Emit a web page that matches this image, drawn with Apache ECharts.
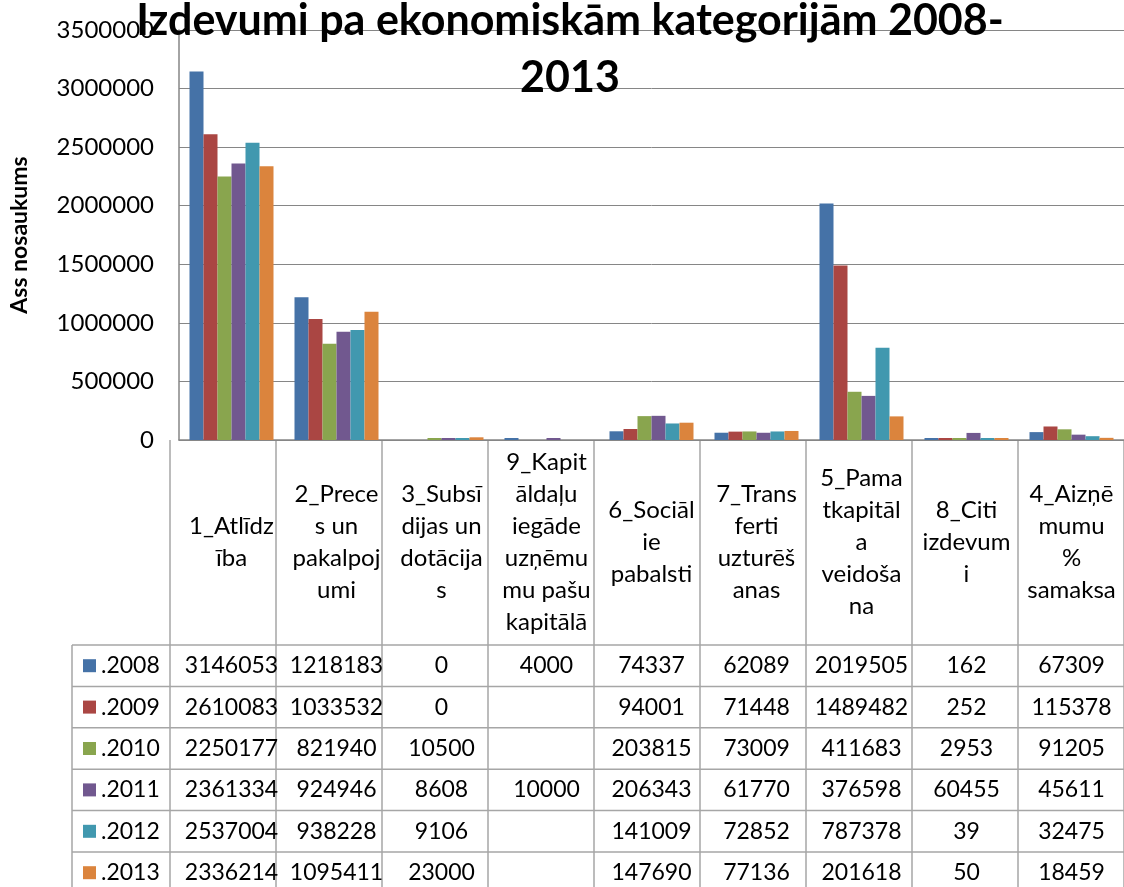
<!DOCTYPE html>
<html>
<head>
<meta charset="utf-8">
<script src="https://cdn.jsdelivr.net/npm/echarts@6/dist/echarts.min.js"></script>
<style>
  html, body { margin: 0; padding: 0; background: #fff; }
  #chart { width: 1124px; height: 887px; }
</style>
</head>
<body>
<div id="chart"></div>
<script>
  // kategorijas (pilnie nosaukumi) un to pārnesumi kā Excel galvenē
  const categories = [
    '1_Atlīdzība', '2_Preces un pakalpojumi', '3_Subsīdijas un dotācijas',
    '9_Kapitāldaļu iegāde uzņēmumu pašu kapitālā', '6_Sociālie pabalsti',
    '7_Transferti uzturēšanas', '5_Pamatkapitāla veidošana', '8_Citi izdevumi',
    '4_Aizņēmumu % samaksa'
  ];
  const headerLabels = [
    '1_Atlīdz\nība', '2_Prece\ns un\npakalpoj\numi', '3_Subsī\ndijas un\ndotācija\ns',
    '9_Kapit\nāldaļu\niegāde\nuzņēmu\nmu pašu\nkapitālā', '6_Sociāl\nie\npabalsti',
    '7_Trans\nferti\nuzturēš\nanas', '5_Pama\ntkapitāl\na\nveidoša\nna', '8_Citi\nizdevum\ni',
    '4_Aizņē\nmumu\n%\nsamaksa'
  ];
  const years = ['.2008', '.2009', '.2010', '.2011', '.2012', '.2013'];
  const v2008 = [3146053, 1218183, 0, 4000, 74337, 62089, 2019505, 162, 67309];
  const v2009 = [2610083, 1033532, 0, null, 94001, 71448, 1489482, 252, 115378];
  const v2010 = [2250177, 821940, 10500, null, 203815, 73009, 411683, 2953, 91205];
  const v2011 = [2361334, 924946, 8608, 10000, 206343, 61770, 376598, 60455, 45611];
  const v2012 = [2537004, 938228, 9106, null, 141009, 72852, 787378, 39, 32475];
  const v2013 = [2336214, 1095411, 23000, null, 147690, 77136, 201618, 50, 18459];
  const rows = [v2008, v2009, v2010, v2011, v2012, v2013];
  const yMin = 0, yMax = 3500000, yStep = 500000;

  const colors = ['#4572A7', '#AA4643', '#89A54E', '#71588F', '#4198AF', '#DB843D'];
  const font = 'Lato';
  const fs = 23;

  // izkārtojums
  const gridLeft = 170, gridTop = 30, axisY = 440, W = 1124, H = 887;
  const tableTop = 645, rowH = 41.4, tableLeft = 72;
  const lineColor = '#a6a6a6';

  const chart = echarts.init(document.getElementById('chart'));

  const tableAxes = rows.map((row, k) => ({
    type: 'category',
    gridIndex: 0,
    position: 'bottom',
    data: categories,
    offset: tableTop + rowH * k + rowH / 2 - axisY,
    axisLine: { show: false },
    axisTick: { show: false },
    splitLine: { show: false },
    axisLabel: {
      interval: 0,
      margin: 0,
      verticalAlign: 'middle',
      fontFamily: font,
      fontSize: fs,
      color: '#000',
      formatter: (v, i) => (row[i] == null ? '' : String(row[i]))
    }
  }));

  // tabulas līnijas un leģendas atslēgas
  const gridW = W - gridLeft;
  const graphics = [];
  for (let k = 0; k <= rows.length; k++) {
    const y = tableTop + rowH * k;
    graphics.push({ type: 'line', shape: { x1: tableLeft, y1: y, x2: W, y2: y },
      style: { stroke: lineColor, lineWidth: 1.5 } });
  }
  graphics.push({ type: 'line', shape: { x1: tableLeft, y1: tableTop, x2: tableLeft, y2: H },
    style: { stroke: lineColor, lineWidth: 1.5 } });
  for (let j = 0; j <= categories.length; j++) {
    const x = gridLeft + gridW / categories.length * j;
    graphics.push({ type: 'line', shape: { x1: x, y1: axisY, x2: x, y2: H },
      style: { stroke: lineColor, lineWidth: 1.5 } });
  }
  years.forEach((name, k) => {
    const cy = tableTop + rowH * k + rowH / 2;
    graphics.push({ type: 'rect', shape: { x: 83, y: cy - 6.5, width: 13, height: 13 },
      style: { fill: colors[k] } });
    graphics.push({ type: 'text', x: 101, y: cy,
      style: { text: name, fontFamily: font, fontSize: fs, fill: '#000', verticalAlign: 'middle' } });
  });

  chart.setOption({
    animation: false,
    color: colors,
    title: {
      text: 'Izdevumi pa ekonomiskām kategorijām 2008-\n2013',
      left: 570,
      top: -7,
      textAlign: 'center',
      padding: 0,
      textStyle: { fontFamily: font, fontSize: 43, fontWeight: 'bold', color: '#000', lineHeight: 57 }
    },
    grid: { left: gridLeft, top: gridTop, right: 0, bottom: H - axisY },
    xAxis: [{
      type: 'category',
      data: categories,
      axisLine: { lineStyle: { color: '#868686', width: 1.5 } },
      axisTick: { show: false },
      axisLabel: {
        interval: 0,
        margin: 102,
        verticalAlign: 'middle',
        align: 'center',
        lineHeight: 32,
        fontFamily: font,
        fontSize: 24,
        color: '#000',
        formatter: (v, i) => headerLabels[i]
      }
    }].concat(tableAxes),
    yAxis: {
      type: 'value',
      min: yMin,
      max: yMax,
      interval: yStep,
      name: 'Ass nosaukums',
      nameLocation: 'middle',
      nameRotate: 90,
      nameGap: 148,
      nameTextStyle: { fontFamily: font, fontSize: 23, fontWeight: 'bold', color: '#000' },
      axisLine: { show: true, lineStyle: { color: '#868686', width: 1.5 } },
      axisTick: { show: false },
      splitLine: { lineStyle: { color: '#868686', width: 1 } },
      axisLabel: { margin: 25, fontFamily: font, fontSize: 24, color: '#000', formatter: v => String(v) }
    },
    series: rows.map((row, k) => ({
      name: years[k],
      type: 'bar',
      xAxisIndex: 0,
      barGap: '0%',
      barCategoryGap: '20%',
      barMinHeight: 2,
      // nulles vērtības Excel nezīmē, ļoti mazās rāda kā plānu svītru
      data: row.map(v => (v == null ? '-' : v === 0 ? { value: 0, itemStyle: { opacity: 0 } } : v))
    })),
    graphic: graphics
  });
</script>
</body>
</html>
